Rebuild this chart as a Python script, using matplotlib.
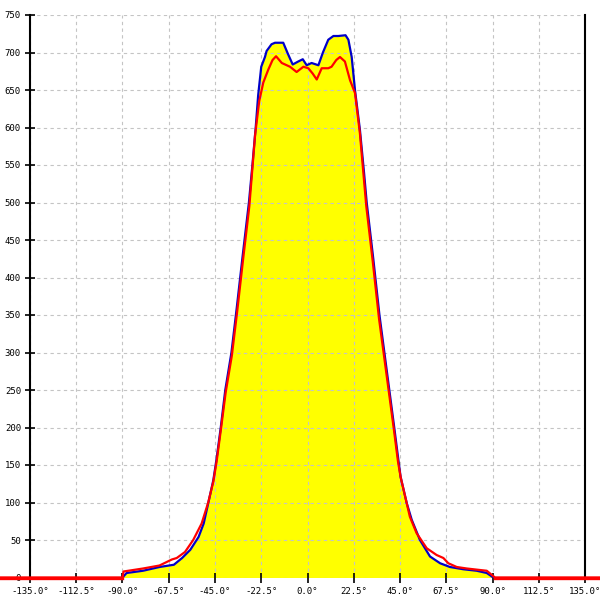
import matplotlib
matplotlib.use("Agg")
import matplotlib.pyplot as plt
import numpy as np

# angle (deg) / value pairs
blue_deg = [-90, -88, -80, -72, -65, -61, -57, -53, -50.5, -48.3, -45.8, -44.3, -42.2,
            -40, -37, -34.4, -31.5, -28.5, -26.8, -25.2, -24, -22.5, -20.7,
            -19.9, -17.5, -15.8, -11.8, -9.5, -7.2, -4.5, -2.3, -0.4, 2.0, 5.3, 7.5,
            10.1, 12.6, 15, 18.5, 19.9, 21.5, 23.1, 25.5, 27.5, 28.8, 32.0, 35.0, 37.4,
            39.8, 42.2, 44.2, 45.3, 48.3, 50.7, 54.7, 59.6, 64.5, 69.3, 75.8, 82.3,
            87.2, 90.4]
blue_val = [0, 6, 9, 14, 17, 26, 37, 54, 72, 99, 130, 157, 200,
            250, 300, 360, 430, 500, 550, 600, 643, 681, 694,
            702, 711, 713, 713, 698, 684, 688, 691, 683, 686, 683, 700,
            717, 722, 722, 723, 717, 694, 650, 597, 540, 500, 425, 350, 300,
            250, 200, 157, 134, 99, 77, 50, 28, 19, 14, 11, 9,
            6, 0]

red_deg = [-150, -90, -89.5, -80, -72, -66, -63.6, -59.6, -55.6, -51.5, -48.3, -45.8,
           -44.2, -42.1, -39.8, -36.8, -34.2, -31.3, -28.3, -25.5, -23.5, -21.5, -19.1,
           -17, -15.3, -12.5, -10.1, -8.5, -5.3, -2.0, 0.4, 2.5, 4.5, 6.9, 10.1, 11.7,
           14, 15.8, 18.2, 20.7, 23.1, 25.5, 28.6, 31.8, 34.8, 37.2, 39.6, 42.0, 44.0,
           45.3, 49.8, 53.1, 58, 62.8, 66.1, 68.5, 72.6, 77.5, 83.9, 87.2, 91.2, 150]
red_val = [0, 0, 8, 12, 16, 24, 26, 34, 50, 72, 100, 128,
           155, 198, 247, 296, 355, 425, 495, 590, 635, 660, 677,
           690, 695, 686, 683, 681, 674, 681, 679, 672, 664, 679, 679, 681,
           690, 694, 688, 663, 646, 592, 495, 420, 345, 296, 247, 198, 155,
           134, 81, 59, 39, 30, 26, 19, 14, 12, 10, 9, 0, 0]

x_ticks = np.arange(-135, 135.1, 22.5)
y_ticks = np.arange(0, 751, 50)

fig = plt.figure(figsize=(6, 6), dpi=100)
ax = fig.add_axes([0.05, 0.0375, 0.925, 0.9375])

ax.fill_between(blue_deg, blue_val, 0, color="#ffff00", linewidth=0, zorder=1)
ax.plot(blue_deg, blue_val, color="#0000c8", linewidth=1.6, zorder=3)
ax.plot(red_deg, red_val, color="#ff0000", linewidth=1.6, zorder=6, clip_on=False)
# the flat part of the red series sits on the axis and looks heavier
ax.plot([-150, -90], [0, 0], color="#ff0000", linewidth=2.4, zorder=6, clip_on=False)
ax.plot([91.2, 150], [0, 0], color="#ff0000", linewidth=2.4, zorder=6, clip_on=False)

ax.set_xlim(-135, 135)
ax.set_ylim(0, 750)
ax.set_xticks(x_ticks)
ax.set_xticklabels([f"{v:.1f}°" for v in x_ticks])
ax.set_yticks(y_ticks)
ax.set_yticklabels([f"{v:d}" for v in y_ticks])
ax.tick_params(direction="inout", length=7, width=1.2, labelsize=6.5, pad=3)
for lbl in ax.get_xticklabels() + ax.get_yticklabels():
    lbl.set_family("DejaVu Sans Mono")

ax.grid(True, color="#c4c4c4", linestyle=(0, (3, 3)), linewidth=0.8, zorder=2)
ax.set_axisbelow(False)
ax.spines["top"].set_visible(False)
ax.spines["bottom"].set_visible(False)
for side in ("left", "right"):
    ax.spines[side].set_linewidth(1.5)
    ax.spines[side].set_zorder(5)

fig.savefig("out.png", dpi=100)
